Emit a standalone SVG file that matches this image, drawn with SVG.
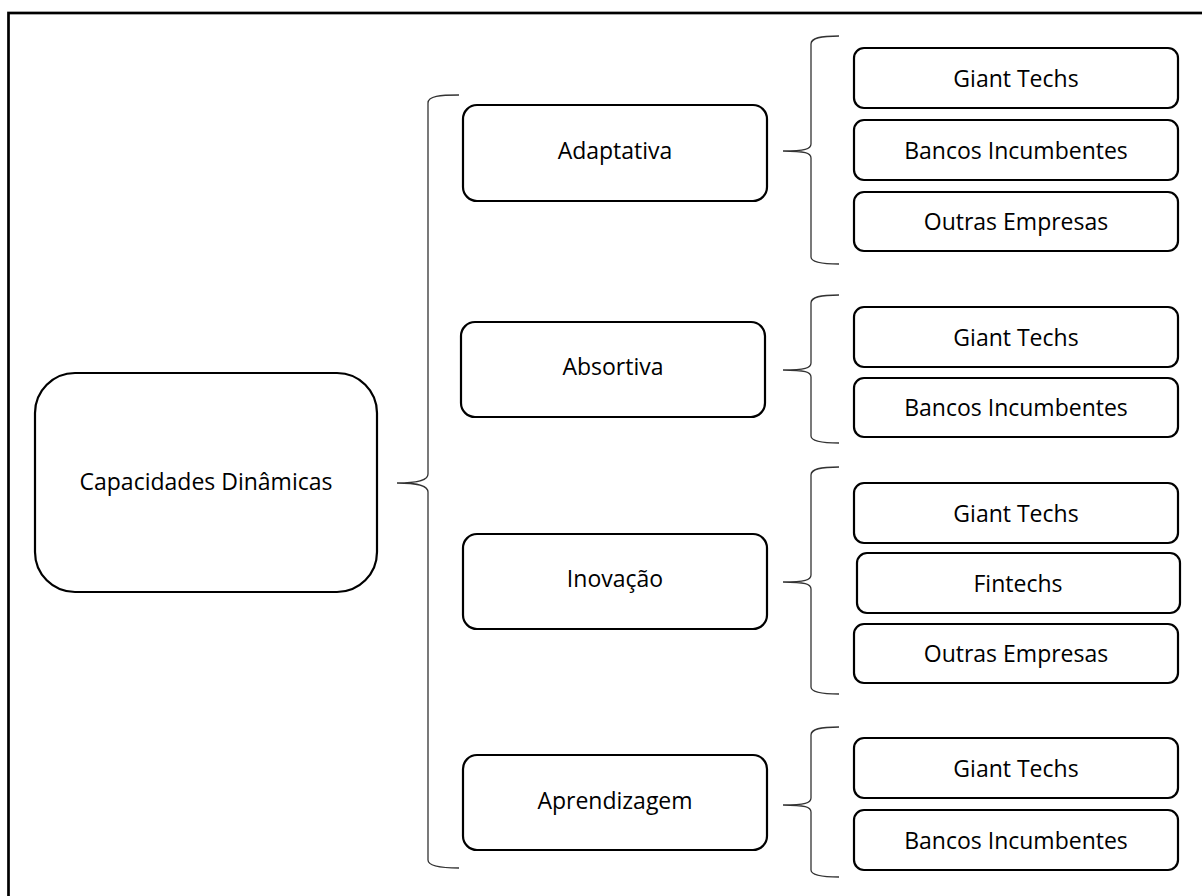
<svg xmlns="http://www.w3.org/2000/svg" width="1202" height="896" viewBox="0 0 1202 896">
<style>
.box{fill:#fff;stroke:#000;stroke-width:2.2}
.brace{fill:none;stroke:#333;stroke-width:1.3}
text{font-family:"Open Sans","Noto Sans","DejaVu Sans",sans-serif;font-size:23px;fill:#000;text-anchor:middle}
</style>
<rect x="8.5" y="13" width="1200" height="900" fill="#fff" stroke="#000" stroke-width="2.7"/>
<g id="connectors">
<path class="brace" d="M459,95 C440,95 428,96 428,103 L428,474 C428,480 420,483 397,483 C420,483 428,486 428,492 L428,860 C428,866 440,868 459,868"/>
<path class="brace" d="M839,36 C820,36 811,38 811,44 L811,144 C811,149 805,151 783,151 C805,151 811,153 811,158 L811,257 C811,262 820,264 839,264"/>
<path class="brace" d="M839,295 C820,295 811,297 811,303 L811,363 C811,368 805,370 783,370 C805,370 811,372 811,377 L811,436 C811,441 820,443 839,443"/>
<path class="brace" d="M839,467 C820,467 811,469 811,475 L811,575 C811,580 805,582 783,582 C805,582 811,584 811,589 L811,687 C811,692 820,694 839,694"/>
<path class="brace" d="M839,727 C820,727 811,729 811,735 L811,798 C811,803 805,805 783,805 C805,805 811,807 811,812 L811,870 C811,875 820,877 839,877"/>
</g>
<g id="capacidades"><rect class="box" x="35" y="373" width="342" height="219" rx="40"/><text x="206" y="490">Capacidades Dinâmicas</text></g>
<g id="adaptativa"><rect class="box" x="463" y="105" width="304" height="96" rx="14"/><text x="615" y="159">Adaptativa</text></g>
<g id="absortiva"><rect class="box" x="461" y="322" width="304" height="95" rx="14"/><text x="613" y="375">Absortiva</text></g>
<g id="inovacao"><rect class="box" x="463" y="534" width="304" height="95" rx="14"/><text x="615" y="587">Inovação</text></g>
<g id="aprendizagem"><rect class="box" x="463" y="755" width="304" height="95" rx="14"/><text x="615" y="809">Aprendizagem</text></g>
<g id="a-giant"><rect class="box" x="854" y="48" width="324" height="60" rx="10"/><text x="1016" y="87">Giant Techs</text></g>
<g id="a-bancos"><rect class="box" x="854" y="120" width="324" height="60" rx="10"/><text x="1016" y="159">Bancos Incumbentes</text></g>
<g id="a-outras"><rect class="box" x="854" y="192" width="324" height="59" rx="10"/><text x="1016" y="230">Outras Empresas</text></g>
<g id="b-giant"><rect class="box" x="854" y="307" width="324" height="60" rx="10"/><text x="1016" y="346">Giant Techs</text></g>
<g id="b-bancos"><rect class="box" x="854" y="378" width="324" height="59" rx="10"/><text x="1016" y="416">Bancos Incumbentes</text></g>
<g id="i-giant"><rect class="box" x="854" y="483" width="324" height="60" rx="10"/><text x="1016" y="522">Giant Techs</text></g>
<g id="i-fintechs"><rect class="box" x="857" y="553" width="323" height="60" rx="10"/><text x="1018" y="592">Fintechs</text></g>
<g id="i-outras"><rect class="box" x="854" y="624" width="324" height="59" rx="10"/><text x="1016" y="662">Outras Empresas</text></g>
<g id="p-giant"><rect class="box" x="854" y="738" width="324" height="60" rx="10"/><text x="1016" y="777">Giant Techs</text></g>
<g id="p-bancos"><rect class="box" x="854" y="810" width="324" height="60" rx="10"/><text x="1016" y="849">Bancos Incumbentes</text></g>
</svg>
